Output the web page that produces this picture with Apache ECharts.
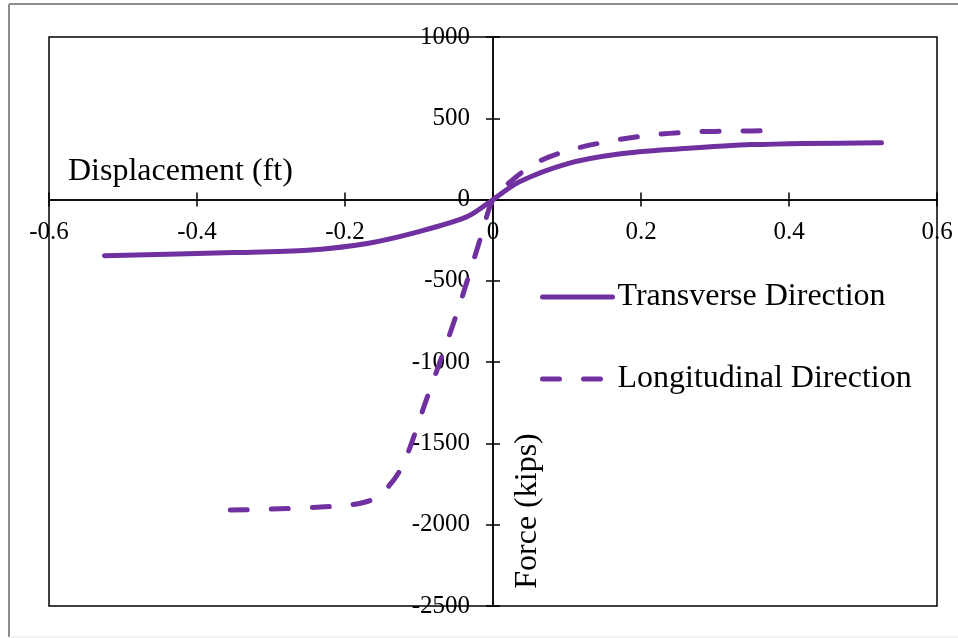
<!DOCTYPE html>
<html><head><meta charset="utf-8">
<script src="https://cdn.jsdelivr.net/npm/echarts@6/dist/echarts.min.js"></script>
<style>html,body{margin:0;padding:0;background:#fff}#c{width:958px;height:638px}</style>
</head><body><div id="c"></div>
<script>
// ---- data ----
const seriesNames = ['Transverse Direction', 'Longitudinal Direction'];
const transX = [-0.525, -0.35, -0.25, -0.17, -0.1, -0.035, 0, 0.035, 0.1, 0.17, 0.25, 0.35, 0.525];
const transF = [-345, -326, -311, -270, -197, -105, 0, 108, 220, 280, 311, 338, 350];
const longX = [-0.355, -0.21, -0.16, -0.125, -0.09, -0.05, -0.015, 0, 0.026, 0.06, 0.1, 0.155, 0.21, 0.27, 0.33, 0.378];
const longF = [-1910, -1885, -1838, -1660, -1230, -715, -210, 0, 120, 230, 300, 357, 395, 416, 421, 424];
const xRange = [-0.6, 0.6, 0.2];
const yRange = [-2500, 1000, 500];
const xTitle = 'Displacement (ft)';
const yTitle = 'Force (kips)';

const FONT = "'Liberation Serif', 'Times New Roman', serif";
const PURPLE = '#7030A0';

function pairs(xs, ys) { return xs.map((x, i) => [x, ys[i]]); }

// plot box
const G = { left: 49, right: 21, top: 37, bottom: 32 };
const W = 958, H = 638;
const plotW = W - G.left - G.right, plotH = H - G.top - G.bottom;
// offsets that move the axes (inward) to the zero lines, computed from the ranges
const xAxisOffset = -plotH * (0 - yRange[0]) / (yRange[1] - yRange[0]);
const yAxisOffset = -plotW * (0 - xRange[0]) / (xRange[1] - xRange[0]);

function xAx(grid, inside, visible) {
  return {
    type: 'value', gridIndex: grid, min: xRange[0], max: xRange[1], interval: xRange[2],
    show: visible, position: 'bottom', offset: xAxisOffset,
    axisLine: { onZero: false, lineStyle: { color: '#000', width: 1.5 } },
    axisTick: { show: true, inside: inside, length: 7, lineStyle: { color: '#000', width: 1.5 } },
    axisLabel: { show: !inside, margin: 20, fontSize: 25, color: '#000', fontFamily: FONT, formatter: v => String(v) },
    splitLine: { show: false }
  };
}
function yAx(grid, inside, visible) {
  return {
    type: 'value', gridIndex: grid, min: yRange[0], max: yRange[1], interval: yRange[2],
    show: visible, position: 'left', offset: yAxisOffset,
    axisLine: { onZero: false, lineStyle: { color: '#000', width: 1.5 } },
    axisTick: { show: true, inside: inside, length: 7, lineStyle: { color: '#000', width: 1.5 } },
    axisLabel: { show: !inside, margin: 23, fontSize: 25, color: '#000', fontFamily: FONT, formatter: v => String(v) },
    splitLine: { show: false }
  };
}

const gridBox = Object.assign({ outerBoundsMode: 'none', containLabel: false }, G);

const chart = echarts.init(document.getElementById('c'), null, { renderer: 'canvas' });
chart.setOption({
  animation: false,
  backgroundColor: '#fff',
  grid: [
    Object.assign({ show: true, borderColor: '#000', borderWidth: 1.5, backgroundColor: 'transparent' }, gridBox),
    Object.assign({ show: false }, gridBox),
    Object.assign({ show: false }, gridBox)
  ],
  xAxis: [xAx(0, false, true), xAx(1, true, true), xAx(2, false, false)],
  yAxis: [yAx(0, false, true), yAx(1, true, true), yAx(2, false, false)],
  legend: {
    orient: 'vertical', left: 540, top: 281, padding: 0, itemWidth: 70, itemHeight: 30, itemGap: 50,
    textStyle: { fontSize: 32, fontFamily: FONT, color: '#000' },
    itemStyle: { opacity: 0 },
    lineStyle: { width: 5, cap: 'round' },
    data: seriesNames
  },
  series: [
    {
      type: 'line', name: seriesNames[0], xAxisIndex: 2, yAxisIndex: 2, data: pairs(transX, transF), symbol: 'none',
      smooth: 0.3,
      lineStyle: { color: PURPLE, width: 5, cap: 'round', join: 'round' },
      itemStyle: { color: PURPLE }
    },
    {
      type: 'line', name: seriesNames[1], xAxisIndex: 2, yAxisIndex: 2, data: pairs(longX, longF), symbol: 'none',
      smooth: 0.3,
      lineStyle: { color: PURPLE, width: 5, type: [17, 24], cap: 'round', join: 'round' },
      itemStyle: { color: PURPLE }
    }
  ],
  graphic: [
    { type: 'line', shape: { x1: 9, y1: 4, x2: 958, y2: 4 }, style: { stroke: '#8c8c8c', lineWidth: 2 } },
    { type: 'line', shape: { x1: 9, y1: 4, x2: 9, y2: 637 }, style: { stroke: '#8c8c8c', lineWidth: 2 } },
    { type: 'line', shape: { x1: 9, y1: 637, x2: 958, y2: 637 }, style: { stroke: '#e6e6e6', lineWidth: 1 } },
    { type: 'text', x: 68, y: 172, style: { text: xTitle, font: '32px ' + FONT, fill: '#000', align: 'left', verticalAlign: 'middle' } },
    { type: 'text', x: 528, y: 511, rotation: Math.PI / 2, style: { text: yTitle, font: '32px ' + FONT, fill: '#000', align: 'center', verticalAlign: 'middle' } }
  ]
});
</script>
</body></html>
